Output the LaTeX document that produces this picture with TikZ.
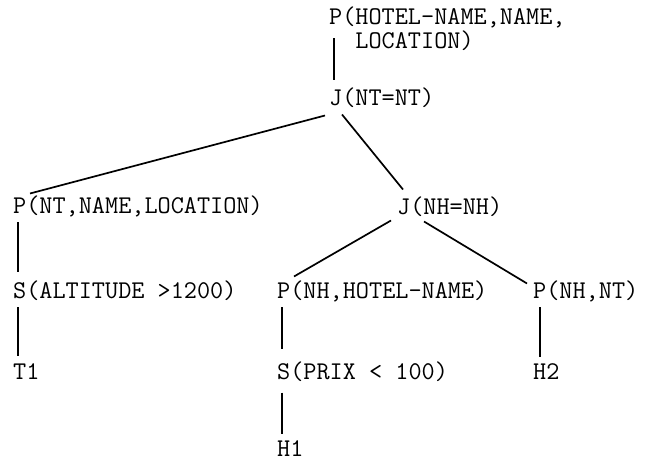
\documentclass[tikz,border=0pt]{standalone}
\usetikzlibrary{calc}
\begin{document}
\begin{tikzpicture}[x=1pt,y=-1pt,
  lbl/.style={anchor=base west,inner sep=0pt,font=\fontsize{25.5}{24}\selectfont\ttfamily},
  edge/.style={line width=1.7pt}]
\useasboundingbox (0,0) rectangle (648,462);
\node[lbl,anchor=north west,align=left] (root) at (329,6.5) {P(HOTEL-NAME,NAME,\\\phantom{P(}LOCATION)};
\node[lbl] (jnt) at (329,105.5) {J(NT=NT)};
\node[lbl] (pnt) at (13,213.5) {P(NT,NAME,LOCATION)};
\node[lbl] (jnh) at (397,214.5) {J(NH=NH)};
\node[lbl] (salt) at (13,298.5) {S(ALTITUDE >1200)};
\node[lbl] (pnhh) at (277,298.5) {P(NH,HOTEL-NAME)};
\node[lbl] (pnhnt) at (533,298.5) {P(NH,NT)};
\node[lbl] (t1) at (13,379.5) {T1};
\node[lbl] (sprix) at (277,379.5) {S(PRIX < 100)};
\node[lbl] (h2) at (533,379.5) {H2};
\node[lbl] (h1) at (277,456) {H1};
\draw[edge] ($(root.north west)+(5,32)$) -- ($(jnt.base west)+(5,-25)$);
\draw[edge] ($(jnt.base west)+(-4,10)$) -- ($(pnt.base west)+(17,-20)$);
\draw[edge] ($(jnt.base west)+(13,9)$) -- ($(jnh.base west)+(6,-25)$);
\draw[edge] ($(pnt.base west)+(5,9)$) -- ($(salt.base west)+(5,-26)$);
\draw[edge] ($(salt.base west)+(5,9)$) -- ($(t1.base west)+(5,-24)$);
\draw[edge] ($(jnh.base west)+(-6,6)$) -- ($(pnhh.base west)+(17,-22)$);
\draw[edge] ($(jnh.base west)+(27,7)$) -- ($(pnhnt.base west)+(-6,-15)$);
\draw[edge] ($(pnhh.base west)+(5,9)$) -- ($(sprix.base west)+(5,-30)$);
\draw[edge] ($(sprix.base west)+(5,13)$) -- ($(h1.base west)+(5,-22)$);
\draw[edge] ($(pnhnt.base west)+(7,9)$) -- ($(h2.base west)+(7,-23)$);
\end{tikzpicture}
\end{document}
